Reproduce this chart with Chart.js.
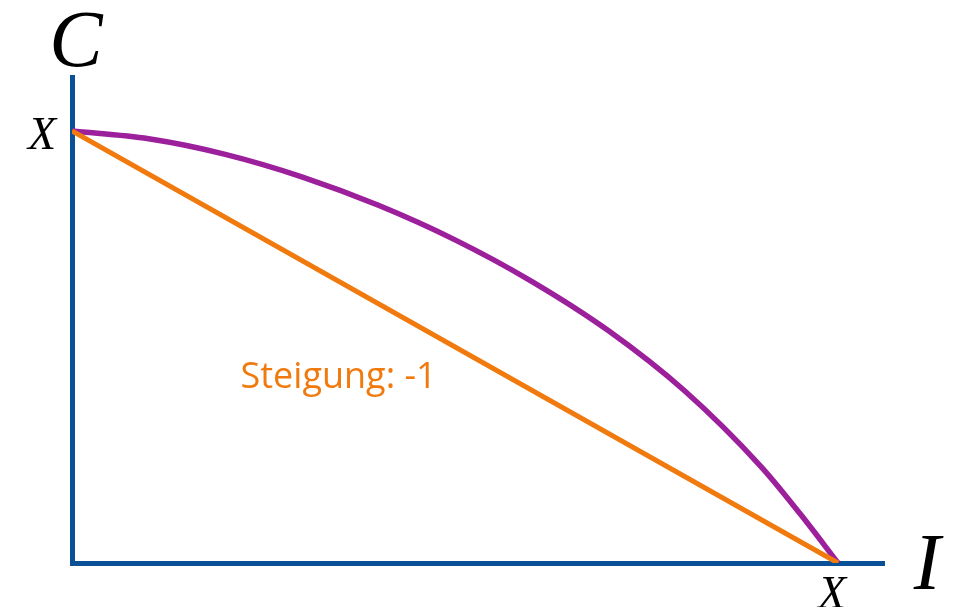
<!DOCTYPE html>
<html>
<head>
<meta charset="utf-8">
<script src="https://cdn.jsdelivr.net/npm/chart.js@4/dist/chart.umd.min.js"></script>
<style>
  html, body { margin: 0; padding: 0; background: #fff; }
  #wrap { width: 953px; height: 607px; position: relative; }
</style>
</head>
<body>
<div id="wrap"><canvas id="ppf"></canvas></div>
<script>
// Transformationskurve C / I
const curveX = [0, 10, 20, 30, 40, 50, 60, 70, 80, 90, 95, 100];
const curveY = [100, 98.2, 94.6, 89.4, 82.8, 74.8, 65.2, 53.8, 39.8, 22.2, 11.5, 0];
const lineX = [0, 100];
const lineY = [100, 0];
const endLabel = 'X';
const slopeLabel = 'Steigung: -1';
const axisLabelY = 'C';
const axisLabelX = 'I';

const blue = '#0a5096';
const purple = '#9c1f9c';
const orange = '#f07a0e';

const textPlugin = {
  id: 'labels',
  afterDraw(chart) {
    const ctx = chart.ctx;
    const xs = chart.scales.x, ys = chart.scales.y;
    const area = chart.chartArea;
    ctx.save();
    ctx.fillStyle = '#000';
    ctx.textAlign = 'center';
    ctx.textBaseline = 'alphabetic';
    ctx.font = 'italic 46px "Liberation Serif", serif';
    ctx.fillText(endLabel, area.left - 30, ys.getPixelForValue(100) + 18);
    ctx.fillText(endLabel, xs.getPixelForValue(100) - 6, area.bottom + 45);
    ctx.font = 'italic 80px "Liberation Serif", serif';
    ctx.fillText(axisLabelY, area.left + 4, area.top - 11);
    ctx.fillText(axisLabelX, area.right + 43, area.bottom + 26);
    ctx.fillStyle = orange;
    ctx.textAlign = 'left';
    ctx.font = '36px "Open Sans", sans-serif';
    ctx.fillText(slopeLabel, xs.getPixelForValue(22.0), ys.getPixelForValue(40.4));
    ctx.restore();
  }
};

new Chart(document.getElementById('ppf'), {
  type: 'scatter',
  data: {
    datasets: [
      {
        data: lineX.map((x, i) => ({ x: x, y: lineY[i] })),
        showLine: true,
        borderColor: orange,
        borderWidth: 5,
        pointRadius: 0
      },
      {
        data: curveX.map((x, i) => ({ x: x, y: curveY[i] })),
        showLine: true,
        borderColor: purple,
        borderWidth: 5.5,
        pointRadius: 0,
        cubicInterpolationMode: 'monotone'
      }
    ]
  },
  options: {
    responsive: true,
    maintainAspectRatio: false,
    animation: false,
    layout: { padding: { left: 64, top: 77, right: 69, bottom: 36 } },
    plugins: { legend: { display: false }, tooltip: { enabled: false } },
    scales: {
      x: {
        type: 'linear', min: 0, max: 106,
        grid: { display: false },
        ticks: { display: false },
        border: { display: true, color: blue, width: 5 }
      },
      y: {
        type: 'linear', min: 0, max: 112.5,
        grid: { display: false },
        ticks: { display: false },
        border: { display: true, color: blue, width: 5 }
      }
    }
  },
  plugins: [textPlugin]
});
</script>
</body>
</html>
